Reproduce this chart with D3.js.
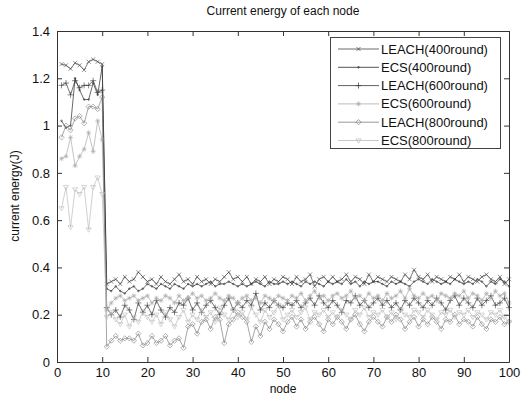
<!DOCTYPE html>
<html><head><meta charset="utf-8">
<script src="https://cdn.jsdelivr.net/npm/d3@7"></script>
<style>body{margin:0;background:#fff;} text{font-family:"Liberation Sans",Arial,sans-serif;}</style>
</head><body><svg id="c" width="524" height="395"></svg>
<script>
const nodes = d3.range(1, 101);
const seriesNames = ["LEACH(400round)","ECS(400round)","LEACH(600round)","ECS(600round)","LEACH(800round)","ECS(800round)"];
const xTicks = [0,10,20,30,40,50,60,70,80,90,100];
const yTicks = [0,0.2,0.4,0.6,0.8,1,1.2,1.4];

const leach400 = [1.26,1.255,1.24,1.265,1.255,1.235,1.27,1.28,1.27,1.26,
0.33,0.34,0.35,0.33,0.36,0.34,0.35,0.38,0.36,0.34,
0.35,0.33,0.36,0.34,0.33,0.35,0.37,0.34,0.35,0.33,
0.36,0.34,0.35,0.33,0.35,0.34,0.36,0.38,0.35,0.36,
0.34,0.36,0.33,0.35,0.34,0.36,0.33,0.35,0.34,0.36,
0.35,0.33,0.36,0.34,0.35,0.37,0.32,0.35,0.36,0.34,
0.36,0.34,0.35,0.37,0.34,0.36,0.35,0.33,0.37,0.34,
0.36,0.35,0.34,0.36,0.35,0.34,0.37,0.35,0.39,0.36,
0.35,0.37,0.34,0.36,0.35,0.34,0.36,0.35,0.37,0.34,
0.36,0.35,0.34,0.36,0.37,0.35,0.34,0.36,0.33,0.35];
const ecs400 = [1.02,0.99,1.00,1.20,1.15,1.11,1.11,1.18,1.13,1.25,
0.31,0.30,0.32,0.30,0.29,0.31,0.32,0.30,0.31,0.33,
0.32,0.31,0.33,0.32,0.31,0.33,0.32,0.31,0.33,0.32,
0.33,0.32,0.33,0.34,0.32,0.33,0.33,0.34,0.33,0.32,
0.33,0.32,0.33,0.34,0.33,0.32,0.34,0.33,0.33,0.34,
0.33,0.34,0.33,0.32,0.34,0.33,0.34,0.33,0.32,0.34,
0.33,0.34,0.33,0.35,0.33,0.34,0.32,0.34,0.33,0.34,
0.34,0.33,0.32,0.34,0.33,0.34,0.33,0.32,0.34,0.35,
0.34,0.33,0.35,0.34,0.33,0.34,0.33,0.35,0.34,0.33,
0.34,0.33,0.35,0.34,0.32,0.34,0.33,0.35,0.34,0.32];
const leach600 = [1.17,1.18,1.13,1.19,1.16,1.17,1.17,1.19,1.14,1.15,
0.23,0.20,0.22,0.19,0.24,0.22,0.18,0.25,0.21,0.24,
0.20,0.26,0.22,0.19,0.23,0.21,0.25,0.24,0.27,0.22,
0.25,0.21,0.24,0.26,0.23,0.20,0.24,0.27,0.22,0.25,
0.23,0.26,0.24,0.29,0.22,0.25,0.23,0.26,0.24,0.23,
0.25,0.24,0.26,0.23,0.25,0.27,0.24,0.28,0.25,0.23,
0.26,0.24,0.21,0.26,0.25,0.28,0.24,0.26,0.23,0.25,
0.27,0.24,0.26,0.23,0.25,0.22,0.26,0.24,0.27,0.25,
0.23,0.26,0.24,0.27,0.25,0.22,0.26,0.28,0.24,0.27,
0.25,0.23,0.27,0.24,0.26,0.28,0.24,0.25,0.27,0.23];
const ecs600 = [0.86,0.87,0.95,0.83,0.87,0.90,0.97,0.89,1.02,0.94,
0.22,0.25,0.27,0.28,0.26,0.27,0.28,0.26,0.27,0.28,
0.25,0.27,0.26,0.28,0.27,0.25,0.28,0.26,0.27,0.29,
0.27,0.28,0.26,0.27,0.29,0.27,0.26,0.28,0.27,0.25,
0.27,0.28,0.26,0.27,0.25,0.28,0.27,0.26,0.28,0.27,
0.26,0.28,0.27,0.29,0.26,0.28,0.30,0.27,0.28,0.26,
0.28,0.29,0.27,0.28,0.30,0.27,0.28,0.26,0.29,0.27,
0.28,0.26,0.29,0.27,0.28,0.30,0.27,0.31,0.28,0.27,
0.29,0.27,0.28,0.26,0.29,0.28,0.27,0.29,0.28,0.30,
0.27,0.29,0.28,0.26,0.29,0.27,0.30,0.28,0.29,0.25];
const leach800 = [0.95,1.00,0.98,1.03,1.04,1.01,1.08,1.08,1.07,1.12,
0.065,0.09,0.11,0.09,0.10,0.10,0.09,0.12,0.07,0.08,
0.11,0.08,0.09,0.11,0.07,0.09,0.10,0.06,0.15,0.16,
0.12,0.17,0.18,0.14,0.19,0.18,0.08,0.16,0.18,0.21,
0.19,0.17,0.085,0.15,0.11,0.17,0.14,0.18,0.16,0.13,
0.17,0.19,0.15,0.18,0.14,0.17,0.19,0.16,0.13,0.18,
0.16,0.19,0.17,0.14,0.18,0.20,0.16,0.13,0.17,0.19,
0.17,0.15,0.19,0.17,0.20,0.18,0.14,0.17,0.19,0.15,
0.18,0.16,0.19,0.17,0.14,0.18,0.17,0.20,0.16,0.18,
0.17,0.15,0.19,0.16,0.14,0.18,0.17,0.19,0.16,0.17];
const ecs800 = [0.65,0.74,0.57,0.73,0.71,0.74,0.56,0.74,0.78,0.71,
0.19,0.21,0.18,0.16,0.20,0.15,0.19,0.17,0.21,0.19,
0.17,0.20,0.16,0.21,0.18,0.15,0.19,0.22,0.17,0.20,
0.18,0.22,0.19,0.21,0.17,0.23,0.20,0.18,0.22,0.19,
0.21,0.18,0.23,0.20,0.17,0.22,0.19,0.21,0.24,0.18,
0.20,0.22,0.19,0.21,0.23,0.18,0.21,0.20,0.22,0.19,
0.21,0.19,0.22,0.20,0.18,0.22,0.20,0.23,0.19,0.21,
0.20,0.22,0.19,0.21,0.18,0.22,0.20,0.19,0.22,0.21,
0.19,0.22,0.20,0.18,0.21,0.20,0.22,0.19,0.21,0.20,
0.22,0.19,0.21,0.20,0.18,0.21,0.20,0.22,0.19,0.17];

const seriesValues = [leach400, ecs400, leach600, ecs600, leach800, ecs800];
const colors = ["#444444","#2a2a2a","#3a3a3a","#aaaaaa","#808080","#bbbbbb"];
const markers = [
  "M-2,-2L2,2M-2,2L2,-2",
  "M-0.8,0A0.8,0.8 0 1,0 0.8,0A0.8,0.8 0 1,0 -0.8,0",
  "M-3,0H3M0,-3V3",
  "M-2.5,0H2.5M0,-2.5V2.5M-1.8,-1.8L1.8,1.8M-1.8,1.8L1.8,-1.8",
  "M0,-2.6L2.6,0L0,2.6L-2.6,0Z",
  "M-2.6,-1.6L2.6,-1.6L0,2.6Z"
];

const svg = d3.select("#c");
const x = d3.scaleLinear().domain([0,100]).range([57,509]);
const y = d3.scaleLinear().domain([0,1.4]).range([362,31]);

svg.append("rect").attr("x",57).attr("y",31).attr("width",452).attr("height",331).attr("fill","#fff");

const line = d3.line().x((d,i)=>x(nodes[i])).y(d=>y(d));
seriesValues.forEach((vals,k)=>{
  const g = svg.append("g");
  g.append("path").datum(vals).attr("d",line).attr("fill","none").attr("stroke",colors[k]).attr("stroke-width",0.7);
  g.selectAll("path.m").data(vals).join("path").attr("class","m")
    .attr("transform",(d,i)=>`translate(${x(nodes[i])},${y(d)})`)
    .attr("d",markers[k]).attr("fill","none").attr("stroke",colors[k]).attr("stroke-width",0.6);
});

const axisColor = "#333";
const fmt = d => d===0?"0":(d===1?"1":d3.format(".1f")(d));
const gb = svg.append("g").attr("transform","translate(0,362)")
  .call(d3.axisBottom(x).tickValues(xTicks).tickSizeInner(-5).tickSizeOuter(0).tickPadding(6));
const gl = svg.append("g").attr("transform","translate(57,0)")
  .call(d3.axisLeft(y).tickValues(yTicks).tickFormat(fmt).tickSizeInner(-5).tickSizeOuter(0).tickPadding(7));
const gt = svg.append("g").attr("transform","translate(0,31)")
  .call(d3.axisTop(x).tickValues(xTicks).tickSizeInner(-5).tickSizeOuter(0).tickFormat(""));
const gr = svg.append("g").attr("transform","translate(509,0)")
  .call(d3.axisRight(y).tickValues(yTicks).tickSizeInner(-5).tickSizeOuter(0).tickFormat(""));
[gb,gl,gt,gr].forEach(g=>{
  g.selectAll("path.domain").attr("stroke",axisColor).attr("stroke-width",1);
  g.selectAll("line").attr("stroke",axisColor);
  g.selectAll("text").attr("fill","#111").style("font-size","13px").style("font-family","Liberation Sans, Arial, sans-serif");
});

svg.append("text").attr("x",283).attr("y",15).attr("text-anchor","middle").style("font-size","12px").attr("fill","#111").text("Current energy of each node");
svg.append("text").attr("x",283).attr("y",393).attr("text-anchor","middle").style("font-size","12px").attr("fill","#111").text("node");
svg.append("text").attr("transform","translate(19,196) rotate(-90)").attr("text-anchor","middle").style("font-size","12px").attr("fill","#111").text("current energy(J)");

const lg = svg.append("g");
lg.append("rect").attr("x",330.5).attr("y",37.5).attr("width",170).attr("height",111).attr("fill","#fff").attr("stroke","#444").attr("stroke-width",1);
seriesNames.forEach((name,k)=>{
  const yy = 49 + k*18.3;
  lg.append("line").attr("x1",338).attr("x2",379).attr("y1",yy).attr("y2",yy).attr("stroke",colors[k]).attr("stroke-width",0.8);
  lg.append("path").attr("transform",`translate(358.5,${yy})`).attr("d",markers[k]).attr("fill","none").attr("stroke",colors[k]).attr("stroke-width",0.7);
  lg.append("text").attr("x",381).attr("y",yy+4.5).style("font-size","13px").attr("fill","#111").text(name);
});
</script></body></html>
